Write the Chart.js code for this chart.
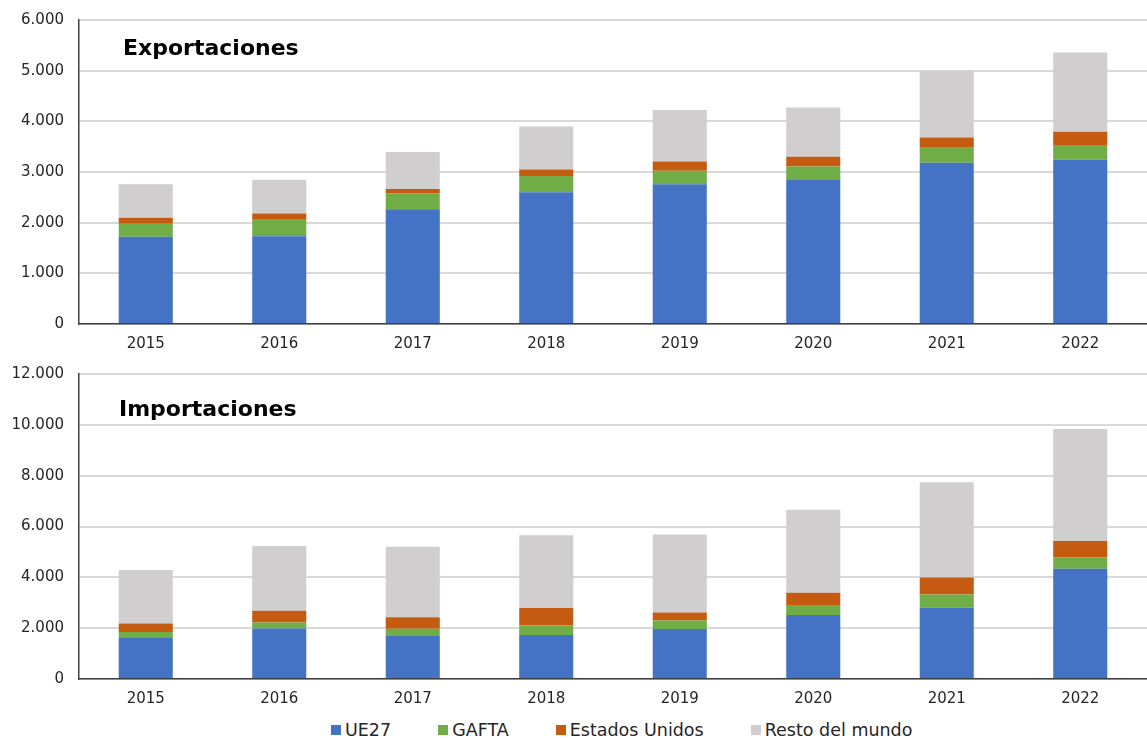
<!DOCTYPE html>
<html>
<head>
<meta charset="utf-8">
<script src="https://cdn.jsdelivr.net/npm/chart.js"></script>
<style>
    html, body { margin: 0; padding: 0; background: #fff; overflow: hidden; }
    #wrap { position: relative; width: 1147px; height: 738px; }
    #expCanvas { position: absolute; left: 0; top: 0; }
    #impCanvas { position: absolute; left: 0; top: 360px; }
    #legend {
        position: absolute; left: 331px; top: 720px;
        display: flex; gap: 47px;
        font-family: "DejaVu Sans", Verdana, sans-serif; font-size: 17.5px; color: #262626;
    }
    .item { display: flex; align-items: center; white-space: nowrap; }
    .box { width: 10px; height: 10px; margin-right: 4px; }
</style>
</head>
<body>
<div id="wrap">
    <canvas id="expCanvas" width="1147" height="360"></canvas>
    <canvas id="impCanvas" width="1147" height="355"></canvas>
    <div id="legend"></div>
</div>
<script>
const years = ["2015", "2016", "2017", "2018", "2019", "2020", "2021", "2022"];
const seriesNames = ["UE27", "GAFTA", "Estados Unidos", "Resto del mundo"];
const seriesColors = ["#4472C4", "#70AD47", "#C55A11", "#D0CECE"];

//Exportaciones
const expUE27 = [1720, 1730, 2265, 2600, 2757, 2840, 3185, 3245];
const expGAFTA = [260, 330, 315, 320, 270, 270, 295, 290];
const expEEUU = [115, 120, 85, 130, 178, 190, 200, 260];
const expResto = [665, 665, 730, 850, 1020, 975, 1315, 1565];

//Importaciones
const impUE27 = [1610, 1990, 1690, 1730, 1965, 2515, 2805, 4335];
const impGAFTA = [235, 235, 290, 375, 340, 365, 520, 460];
const impEEUU = [340, 460, 445, 685, 315, 510, 670, 630];
const impResto = [2100, 2545, 2780, 2870, 3065, 3265, 3750, 4415];

const expMax = 6000, expStep = 1000;
const impMax = 12000, impStep = 2000;

const FONT = "'DejaVu Sans', Verdana, sans-serif";

function fmt(v) {
    return String(v).replace(/\B(?=(\d{3})+(?!\d))/g, ".");
}

function makeDatasets(values) {
    return values.map((data, i) => ({
        label: seriesNames[i],
        data: data,
        backgroundColor: seriesColors[i],
        borderWidth: 0,
        categoryPercentage: 1,
        barPercentage: 0.405
    }));
}

function titlePlugin(text, x, y) {
    return {
        id: "panelTitle",
        afterDraw(chart) {
            const ctx = chart.ctx;
            ctx.save();
            ctx.font = "bold 22px " + FONT;
            ctx.fillStyle = "#000";
            ctx.textBaseline = "middle";
            ctx.textAlign = "left";
            ctx.fillText(text, x, y);
            ctx.restore();
        }
    };
}

function buildChart(canvasId, values, max, step, topPad, title, tx, ty) {
    const ctx = document.getElementById(canvasId).getContext("2d");
    return new Chart(ctx, {
        type: "bar",
        data: { labels: years, datasets: makeDatasets(values) },
        options: {
            responsive: false,
            animation: false,
            layout: { padding: { top: topPad, left: 0, right: 0, bottom: 0 } },
            plugins: { legend: { display: false }, tooltip: { enabled: false } },
            scales: {
                x: {
                    stacked: true,
                    grid: { display: false, drawTicks: false },
                    border: { color: "#404040", width: 1.5 },
                    ticks: { color: "#262626", font: { family: FONT, size: 15 }, padding: 11 },
                    afterFit(scale) { scale.height = 36; }
                },
                y: {
                    stacked: true,
                    min: 0,
                    max: max,
                    ticks: {
                        stepSize: step,
                        color: "#262626",
                        font: { family: FONT, size: 15 },
                        padding: 15,
                        callback: v => fmt(v)
                    },
                    grid: { color: "#d9d9d9", lineWidth: 2, drawTicks: false },
                    border: { color: "#404040", width: 1.5 },
                    afterFit(scale) {
                        scale.width = 79;
                        scale.paddingTop = 0;
                        scale.paddingBottom = 0;
                    }
                }
            }
        },
        plugins: [titlePlugin(title, tx, ty)]
    });
}

buildChart("expCanvas", [expUE27, expGAFTA, expEEUU, expResto], expMax, expStep, 20, "Exportaciones", 123, 49);
buildChart("impCanvas", [impUE27, impGAFTA, impEEUU, impResto], impMax, impStep, 14, "Importaciones", 119, 50);

//Legend
const legend = document.getElementById("legend");
seriesNames.forEach((name, i) => {
    const item = document.createElement("div");
    item.className = "item";
    const box = document.createElement("span");
    box.className = "box";
    box.style.background = seriesColors[i];
    const label = document.createElement("span");
    label.textContent = name;
    item.appendChild(box);
    item.appendChild(label);
    legend.appendChild(item);
});
</script>
</body>
</html>
